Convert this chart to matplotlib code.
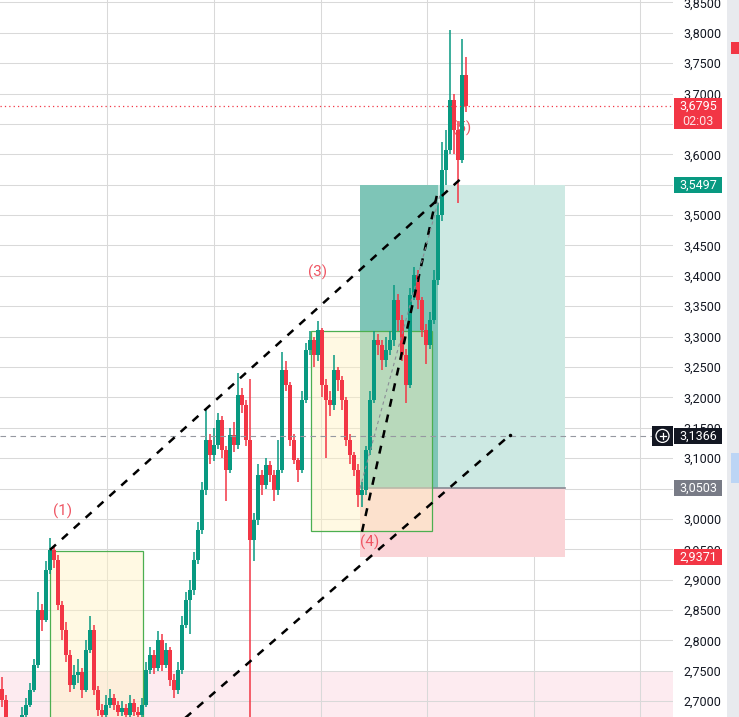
import matplotlib
matplotlib.use('Agg')
from matplotlib import pyplot as plt
from matplotlib.patches import Rectangle, Circle
from matplotlib.ticker import FuncFormatter
import numpy as np

plt.rcParams['font.family'] = ['Roboto', 'DejaVu Sans']

# price bars (open = previous close)
first_open = 2.72
closes = [2.702, 2.665, 2.650, 2.645, 2.660, 2.678, 2.694, 2.719, 2.760, 2.850,
          2.834, 2.916, 2.949, 2.933, 2.859, 2.817, 2.776, 2.727, 2.743, 2.748,
          2.719, 2.785, 2.817, 2.719, 2.686, 2.678, 2.694, 2.706, 2.694, 2.683,
          2.689, 2.678, 2.697, 2.683, 2.678, 2.694, 2.752, 2.776, 2.755, 2.801,
          2.760, 2.785, 2.735, 2.719, 2.752, 2.826, 2.867, 2.883, 2.933, 2.982,
          3.048, 3.130, 3.105, 3.122, 3.163, 3.113, 3.081, 3.138, 3.122, 3.204,
          3.188, 3.130, 2.965, 2.998, 3.072, 3.056, 3.089, 3.072, 3.048, 3.081,
          3.245, 3.220, 3.130, 3.097, 3.081, 3.196, 3.278, 3.294, 3.270, 3.311,
          3.220, 3.196, 3.188, 3.245, 3.229, 3.196, 3.130, 3.105, 3.081, 3.039,
          3.048, 3.113, 3.196, 3.294, 3.286, 3.262, 3.278, 3.294, 3.360, 3.327,
          3.270, 3.220, 3.368, 3.401, 3.360, 3.311, 3.286, 3.327, 3.393, 3.500,
          3.574, 3.607, 3.689, 3.640, 3.590, 3.730, 3.6795]
highs = [2.74, 2.71, 2.67, 2.66, 2.668, 2.69, 2.705, 2.73, 2.77, 2.88,
         2.86, 2.93, 2.968, 2.955, 2.94, 2.865, 2.83, 2.785, 2.76, 2.77,
         2.755, 2.80, 2.84, 2.825, 2.725, 2.695, 2.71, 2.72, 2.712, 2.70,
         2.70, 2.695, 2.71, 2.704, 2.69, 2.705, 2.765, 2.79, 2.785, 2.815,
         2.81, 2.795, 2.79, 2.745, 2.765, 2.84, 2.88, 2.90, 2.945, 2.995,
         3.06, 3.18, 3.14, 3.15, 3.175, 3.17, 3.12, 3.15, 3.16, 3.24,
         3.215, 3.195, 3.23, 3.01, 3.09, 3.08, 3.10, 3.095, 3.08, 3.13,
         3.275, 3.26, 3.225, 3.14, 3.10, 3.21, 3.29, 3.31, 3.30, 3.325,
         3.315, 3.23, 3.21, 3.27, 3.25, 3.235, 3.20, 3.14, 3.11, 3.09,
         3.06, 3.12, 3.21, 3.31, 3.305, 3.295, 3.30, 3.31, 3.385, 3.37,
         3.335, 3.28, 3.38, 3.415, 3.41, 3.365, 3.32, 3.34, 3.41, 3.52,
         3.62, 3.64, 3.805, 3.70, 3.655, 3.79, 3.76]
lows = [2.69, 2.655, 2.64, 2.635, 2.64, 2.655, 2.672, 2.69, 2.715, 2.755,
        2.815, 2.83, 2.91, 2.92, 2.85, 2.80, 2.765, 2.715, 2.72, 2.73,
        2.705, 2.715, 2.78, 2.71, 2.675, 2.665, 2.67, 2.688, 2.685, 2.675,
        2.676, 2.668, 2.672, 2.676, 2.668, 2.672, 2.69, 2.745, 2.745, 2.75,
        2.75, 2.755, 2.725, 2.705, 2.712, 2.745, 2.82, 2.81, 2.875, 2.925,
        2.975, 3.04, 3.09, 3.095, 3.115, 3.10, 3.03, 3.075, 3.11, 3.115,
        3.175, 3.12, 2.55, 2.93, 2.99, 3.04, 3.05, 3.06, 3.03, 3.04,
        3.075, 3.21, 3.12, 3.09, 3.06, 3.075, 3.19, 3.27, 3.25, 3.26,
        3.20, 3.10, 3.17, 3.18, 3.21, 3.18, 3.12, 3.09, 3.07, 3.02,
        3.02, 3.04, 3.105, 3.19, 3.27, 3.245, 3.25, 3.27, 3.285, 3.31,
        3.26, 3.19, 3.215, 3.36, 3.345, 3.30, 3.255, 3.28, 3.32, 3.385,
        3.49, 3.55, 3.60, 3.60, 3.52, 3.585, 3.67]

price_ticks = np.arange(2.70, 3.851, 0.05)
entry = 3.0503
target = 3.5497
stop = 2.9371
last_price = 3.6795
countdown = '02:03'
cross_price = 3.1366

wave_labels = ['(1)', '(3)', '(4)', '(5)']
wave_x = [15.25, 79.0, 92.0, 115.0]
wave_y = [3.013, 3.406, 2.961, 3.643]

UP = '#089981'
DOWN = '#f23645'
W, H = 739, 717

def fmt(v):
    return f'{v:.4f}'.replace('.', ',')

fig = plt.figure(figsize=(W / 100, H / 100), dpi=100)
fig.patch.set_facecolor('white')
ax = fig.add_axes([0, 0, 673 / W, 1])
ax.set_xlim(-0.5, 167.75)
ax.set_ylim(2.674, 3.854)

# grid
ax.set_xticks([26.25, 53.0, 79.7, 106.25, 133.0, 159.5])
ax.set_yticks(price_ticks)
ax.grid(True, color='#d9d9d9', lw=0.75)
ax.set_axisbelow(True)
for s in ax.spines.values():
    s.set_visible(False)
ax.tick_params(axis='x', length=0, labelbottom=False)
ax.yaxis.tick_right()
ax.tick_params(axis='y', length=0, pad=7.5, labelsize=9, labelcolor='#131722')
ax.yaxis.set_major_formatter(FuncFormatter(lambda v, p: fmt(v)))

# background zones
ax.axhspan(2.5, 2.748, color='#fdebf0', zorder=0.5, lw=0)

# long position tool
ax.add_patch(Rectangle((89.5, entry), 51.25, target - entry, fc='#cde9e3', lw=0, zorder=1))
ax.add_patch(Rectangle((89.5, entry), 19.5, target - entry, fc='#7ec5b7', lw=0, zorder=1.05))
ax.add_patch(Rectangle((89.5, stop), 51.25, entry - stop, fc='#fad4d7', lw=0, zorder=1))
ax.plot([89.5, 140.75], [entry, entry], color='#868993', lw=1.2, zorder=1.1)

# yellow boxes
ax.add_patch(Rectangle((12.0, 2.5), 23.25, 2.947 - 2.5, fc=(1, 0.95, 0.76, 0.45),
                       ec='#4caf50', lw=0.9, zorder=1.5))
ax.add_patch(Rectangle((77.25, 2.980), 30.25, 3.309 - 2.980, fc=(1, 0.95, 0.76, 0.45),
                       ec='#4caf50', lw=0.9, zorder=1.5))

# candles
x = np.arange(len(closes))
c = np.array(closes)
o = np.array([first_open] + closes[:-1])
cols = [UP if cc >= oo else DOWN for cc, oo in zip(c, o)]
ax.vlines(x, lows, highs, colors=cols, lw=1.1, zorder=2)
ax.bar(x, np.maximum(np.abs(c - o), 0.003), bottom=np.minimum(o, c), width=0.9,
       color=cols, lw=0, zorder=2.1)

# horizontal price lines
ax.axhline(last_price, color=DOWN, lw=0.9, ls=(0, (1, 2.5)), zorder=2.5)
ax.axhline(cross_price, color='#9598a1', lw=0.8, ls=(0, (5, 4)), zorder=2.5)

# trend lines
dash = dict(color='black', lw=1.8, dashes=(3.2, 3.2), zorder=3)
ax.plot([12.0, 115.75], [2.949, 3.566], **dash)
ax.plot([44.5, 127.0], [2.665, 3.138], **dash)
ax.plot([90.0, 109.0], [2.979, 3.541], **dash)
ax.plot([89.5, 109.5], [entry, 3.533], color='#8a8d96', lw=0.8, dashes=(3, 3), zorder=3)
ax.plot([127.0], [3.138], marker='o', ms=1.5, color='black', zorder=3)

# wave labels
for lab, wx, wy in zip(wave_labels, wave_x, wave_y):
    ax.text(wx, wy, lab, color='#ef5563', fontsize=11, ha='center', va='center',
            zorder=1.8 if lab == '(5)' else 4)

# tick labels fully covered by the price boxes are not shown
for t, v in zip(ax.get_yticklabels(), price_ticks):
    if round(v, 2) in (3.65, 3.55, 3.05):
        t.set_visible(False)

# right price scale boxes
def ypix(p):
    return ax.transData.transform((0, p))[1]

def box(y0, h, color, x0=674, w=48):
    fig.add_artist(Rectangle((x0 / 100, y0 / 100), w / 100, h / 100, fc=color, lw=0,
                             transform=fig.dpi_scale_trans, zorder=5))

def label(p, color):
    yp = ypix(p)
    box(yp - 8, 16, color)
    fig.text(698 / W, yp / H, fmt(p), color='white', fontsize=9, ha='center', va='center', zorder=6)

label(target, UP)
label(entry, '#787b86')
label(stop, DOWN)
label(cross_price, '#131722')

yp = ypix(last_price)
box(yp - 23, 31, DOWN)
fig.text(698 / W, yp / H, fmt(last_price), color='white',
         fontsize=9, ha='center', va='center', zorder=6)
fig.text(698 / W, (yp - 15) / H, countdown, color='#fde3e5', fontsize=9,
         ha='center', va='center', zorder=6)

# crosshair icon
yc = ypix(cross_price)
box(yc - 10, 20, '#131722', x0=652, w=21)
fig.add_artist(Circle((662.5 / 100, yc / 100), 0.065, fc='none', ec='white', lw=0.9,
                      transform=fig.dpi_scale_trans, zorder=6))
fig.add_artist(plt.Line2D([659.5 / 100, 665.5 / 100], [yc / 100, yc / 100], color='white',
                          lw=0.9, transform=fig.dpi_scale_trans, zorder=6))
fig.add_artist(plt.Line2D([662.5 / 100, 662.5 / 100], [(yc - 3) / 100, (yc + 3) / 100],
                          color='white', lw=0.9, transform=fig.dpi_scale_trans, zorder=6))

# strip at the right edge
box(0, H, '#e8eaee', x0=727, w=12)
box(H - 54, 12, DOWN, x0=731, w=8)
box(H - 483, 30, '#bcd5f5', x0=731, w=8)

fig.savefig('out.png', dpi=100)
